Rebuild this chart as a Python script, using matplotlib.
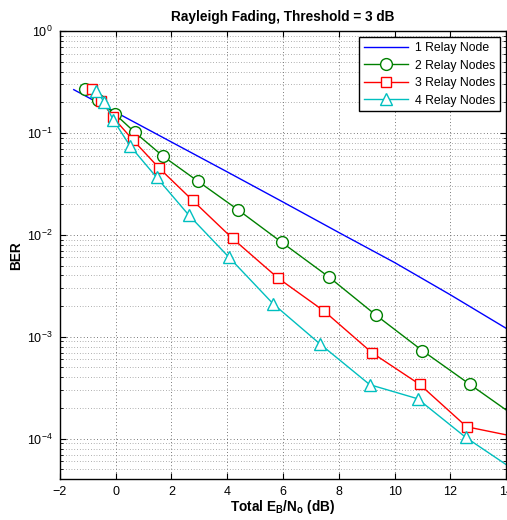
import matplotlib
matplotlib.use("Agg")
import matplotlib.pyplot as plt
import numpy as np
from matplotlib.ticker import LogLocator, NullFormatter

plt.rcParams["font.family"] = ["Liberation Sans", "DejaVu Sans"]
plt.rcParams["mathtext.fontset"] = "custom"
plt.rcParams["mathtext.rm"] = "Liberation Sans"
plt.rcParams["mathtext.bf"] = "Liberation Sans:bold"

# data
x1 = [-1.5, 0, 2, 4, 6, 8, 10, 12, 14]
ber1 = [0.266, 0.160, 0.0815, 0.0415, 0.0210, 0.01055, 5.35e-3, 2.58e-3, 1.21e-3]

x2 = [-1.10, -0.63, -0.03, 0.69, 1.70, 2.95, 4.38, 5.95, 7.64, 9.32, 10.99, 12.70, 14.4]
ber2 = [0.271, 0.212, 0.154, 0.1014, 0.0591, 0.0336, 0.01767, 8.47e-3, 3.87e-3,
        1.64e-3, 7.33e-4, 3.41e-4, 1.6e-4]

x3 = [-0.86, -0.51, -0.09, 0.61, 1.55, 2.76, 4.19, 5.82, 7.47, 9.19, 10.90, 12.58, 14.3]
ber3 = [0.271, 0.207, 0.142, 0.0860, 0.0455, 0.0218, 9.22e-3, 3.77e-3, 1.79e-3,
        6.97e-4, 3.41e-4, 1.31e-4, 1.05e-4]

x4 = [-0.69, -0.41, -0.09, 0.51, 1.47, 2.63, 4.07, 5.65, 7.32, 9.11, 10.82, 12.55, 14.3]
ber4 = [0.261, 0.201, 0.135, 0.0751, 0.0366, 0.01555, 6.0e-3, 2.10e-3, 8.53e-4,
        3.39e-4, 2.47e-4, 1.03e-4, 4.9e-5]

labels = ["1 Relay Node", "2 Relay Nodes", "3 Relay Nodes", "4 Relay Nodes"]

fig = plt.figure(figsize=(5.07, 5.20), dpi=100)
ax = fig.add_axes([0.118, 0.0783, 0.8805, 0.862])

ax.semilogy(x1, ber1, color="b", lw=1.0, label=labels[0])
ax.semilogy(x2, ber2, color="#008000", lw=1.0, marker="o", ms=8.5,
            mfc="white", mec="#008000", mew=1.0, label=labels[1])
ax.semilogy(x3, ber3, color="r", lw=1.0, marker="s", ms=7.5,
            mfc="white", mec="r", mew=1.0, label=labels[2])
ax.semilogy(x4, ber4, color="#00bfbf", lw=1.0, marker="^", ms=8.5,
            mfc="white", mec="#00bfbf", mew=1.0, label=labels[3])

ax.set_xlim(-2, 14)
ax.set_ylim(4e-5, 1)
ax.set_xticks(np.arange(-2, 15, 2))
ax.yaxis.set_major_locator(LogLocator(base=10, numticks=10))
ax.yaxis.set_minor_locator(LogLocator(base=10, subs=np.arange(2, 10), numticks=20))
ax.yaxis.set_minor_formatter(NullFormatter())

ax.grid(True, which="major", linestyle=(0, (1, 3)), color="0.3", lw=0.6)
ax.grid(True, which="minor", axis="y", linestyle=(0, (1, 3)), color="0.4", lw=0.5)

ax.tick_params(which="both", direction="in", top=True, right=True, labelsize=9)
ax.tick_params(which="major", length=4, pad=5)
ax.tick_params(which="minor", length=2)
for s in ax.spines.values():
    s.set_linewidth(1.0)

ax.set_title("Rayleigh Fading, Threshold = 3 dB", fontsize=9.8, fontweight="bold", pad=7)
ax.set_ylabel("BER", fontsize=9.8, fontweight="bold", labelpad=3)
ax.set_xlabel(r"Total E$_\mathbf{B}$/N$_\mathbf{o}$ (dB)", fontsize=9.8, fontweight="bold", labelpad=0)

leg = ax.legend(loc="upper right", fontsize=8.8, fancybox=False, framealpha=1,
                edgecolor="black", borderaxespad=0.5, handlelength=3.6,
                labelspacing=0.45, borderpad=0.4, handletextpad=0.6)
leg.get_frame().set_linewidth(1.0)

fig.savefig("out.png", dpi=100)
